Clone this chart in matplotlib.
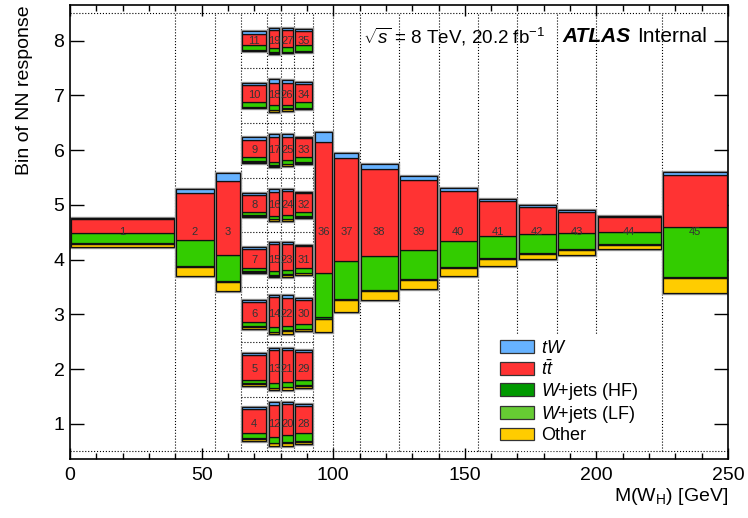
import matplotlib
matplotlib.use("Agg")
import matplotlib.pyplot as plt
from matplotlib.patches import Patch, Rectangle

plt.rcParams["font.family"] = ["Liberation Sans", "DejaVu Sans"]
plt.rcParams["mathtext.fontset"] = "custom"
plt.rcParams["mathtext.rm"] = "Liberation Sans"
plt.rcParams["mathtext.it"] = "Liberation Sans:italic"
plt.rcParams["mathtext.bf"] = "Liberation Sans:bold"

# ------------------------------------------------------------
# binning: mass columns and the NN-response slot of each bin
# ------------------------------------------------------------
mass_edges = [0, 40, 55, 65, 75, 80, 85, 92.5, 100, 110, 125, 140,
              155, 170, 185, 200, 225, 250]

# column index (into mass_edges) and NN bin position for bins 1..45
bin_column = ([0, 1, 2] + [3] * 8 + [4] * 8 + [5] * 8 + [6] * 8
              + list(range(7, 17)))
bin_nn = ([4.5, 4.5, 4.5] + list(range(1, 9)) * 4 + [4.5] * 10)

# background composition per bin (box height in NN-bin units)
other = [0.05, 0.16, 0.17,
         0.04, 0.03, 0.04, 0.02, 0.02, 0.02, 0.01, 0.01,
         0.05, 0.04, 0.03, 0.03, 0.03, 0.02, 0.03, 0.02,
         0.05, 0.05, 0.05, 0.04, 0.03, 0.03, 0.05, 0.02,
         0.04, 0.04, 0.03, 0.03, 0.03, 0.02, 0.02, 0.01,
         0.25, 0.22, 0.18, 0.16, 0.15, 0.13, 0.10, 0.09, 0.07, 0.28]
wjets_hf = [0.015, 0.02, 0.02] + [0.01] * 32 + [0.02] * 6 + [0.015] * 3 + [0.02]
wjets_lf = [0.19, 0.47, 0.47,
            0.10, 0.07, 0.07, 0.06, 0.06, 0.08, 0.08, 0.08,
            0.10, 0.09, 0.09, 0.07, 0.05, 0.06, 0.09, 0.08,
            0.13, 0.08, 0.08, 0.08, 0.06, 0.07, 0.05, 0.09,
            0.16, 0.10, 0.09, 0.08, 0.07, 0.09, 0.10, 0.11,
            0.82, 0.68, 0.62, 0.54, 0.48, 0.39, 0.345, 0.285, 0.225, 0.91]
ttbar = [0.26, 0.87, 1.36,
         0.44, 0.45, 0.37, 0.35, 0.31, 0.31, 0.31, 0.21,
         0.59, 0.59, 0.54, 0.49, 0.44, 0.46, 0.40, 0.33,
         0.57, 0.59, 0.51, 0.47, 0.44, 0.43, 0.41, 0.30,
         0.49, 0.51, 0.44, 0.40, 0.35, 0.35, 0.33, 0.25,
         2.39, 1.88, 1.59, 1.28, 0.91, 0.65, 0.50, 0.39, 0.27, 0.94]
tw = [0.01, 0.07, 0.14,
      0.03, 0.04, 0.04, 0.04, 0.03, 0.05, 0.04, 0.05,
      0.05, 0.04, 0.04, 0.04, 0.05, 0.05, 0.07, 0.04,
      0.03, 0.03, 0.05, 0.03, 0.04, 0.04, 0.06, 0.04,
      0.04, 0.03, 0.03, 0.03, 0.03, 0.03, 0.04, 0.04,
      0.17, 0.10, 0.08, 0.07, 0.05, 0.04, 0.03, 0.03, 0.03, 0.07]

components = [other, wjets_hf, wjets_lf, ttbar, tw]
box_colors = ["#FFCC00", "#009900", "#33CC00", "#FF3333", "#66B2FF"]
legend_labels = [r"$tW$", r"$t\bar{t}$", r"$W$+jets (HF)", r"$W$+jets (LF)", "Other"]
legend_colors = ["#66B2FF", "#FF3333", "#009900", "#66CC33", "#FFCC00"]

fig, ax = plt.subplots(figsize=(7.48, 5.18), dpi=100)
fig.subplots_adjust(left=0.0936, right=0.9733, bottom=0.114, top=0.990)

# dotted grid of the mass / NN binning
for xe in mass_edges[1:-1]:
    ax.plot([xe, xe], [0.5, 8.5], ls=":", color="k", lw=0.8, zorder=1)
for ye in [0.5, 8.5]:
    ax.plot([0, 250], [ye, ye], ls=":", color="k", lw=0.8, zorder=1)
for ye in [1.5, 2.5, 3.5, 4.5, 5.5, 6.5, 7.5]:
    ax.plot([65, 92.5], [ye, ye], ls=":", color="k", lw=0.8, zorder=1)

pad = 0.45
for i in range(45):
    c = bin_column[i]
    x0 = mass_edges[c] + pad
    w = mass_edges[c + 1] - mass_edges[c] - 2 * pad
    total = sum(comp[i] for comp in components)
    y0 = bin_nn[i] - total / 2
    # soft grey halo round each box
    ax.add_patch(Rectangle((x0, y0), w, total, fill=False, ec="#999999",
                           lw=2.4, zorder=2))
    bottom = y0
    for comp, col in zip(components, box_colors):
        ax.bar(x0, comp[i], width=w, bottom=bottom, align="edge", color=col,
               edgecolor="#111111", linewidth=0.9, zorder=3)
        bottom += comp[i]
    ax.text(x0 + w / 2, bin_nn[i], str(i + 1), ha="center", va="center",
            fontsize=8, color="#333333", zorder=4)

ax.set_xlim(0, 250)
ax.set_ylim(0.36, 8.65)
ax.set_xticks([0, 50, 100, 150, 200, 250])
ax.set_xticks(range(0, 251, 10), minor=True)
ax.set_yticks(range(1, 9))
ax.tick_params(which="both", direction="in", top=True, right=True,
               labelsize=14, width=1)
ax.tick_params(axis="x", which="major", length=8, pad=6)
ax.tick_params(axis="x", which="minor", length=4)
ax.tick_params(axis="y", which="major", length=10, pad=4)
for sp in ax.spines.values():
    sp.set_linewidth(1.2)

ax.set_ylabel("Bin of NN response", fontsize=14, loc="top")
ax.yaxis.set_label_coords(-0.056, 1.0)
ax.set_xlabel(r"M(W$_\mathregular{H}$) [GeV]", fontsize=14, loc="right")
ax.xaxis.set_label_coords(1.0, -0.06)

ax.text(0.446, 0.93, r"$\sqrt{s}$ = 8 TeV, 20.2 fb$^{-1}$", transform=ax.transAxes,
        fontsize=13.5, va="center", ha="left")
ax.text(0.749, 0.93, "ATLAS", transform=ax.transAxes, fontsize=15,
        fontweight="bold", fontstyle="italic", va="center", ha="left")
ax.text(0.862, 0.93, "Internal", transform=ax.transAxes, fontsize=15,
        va="center", ha="left")

handles = [Patch(facecolor=c, edgecolor="#333333", linewidth=0.9)
           for c in legend_colors]
leg = ax.legend(handles, legend_labels, loc="upper left",
                bbox_to_anchor=(0.645, 0.274), fontsize=13, frameon=True,
                fancybox=False, edgecolor="white", framealpha=1.0,
                borderpad=0.3, borderaxespad=0, labelspacing=0.12,
                handlelength=1.9, handleheight=0.7, handletextpad=0.4)
leg.set_zorder(5)

plt.savefig("out.png", dpi=100)
